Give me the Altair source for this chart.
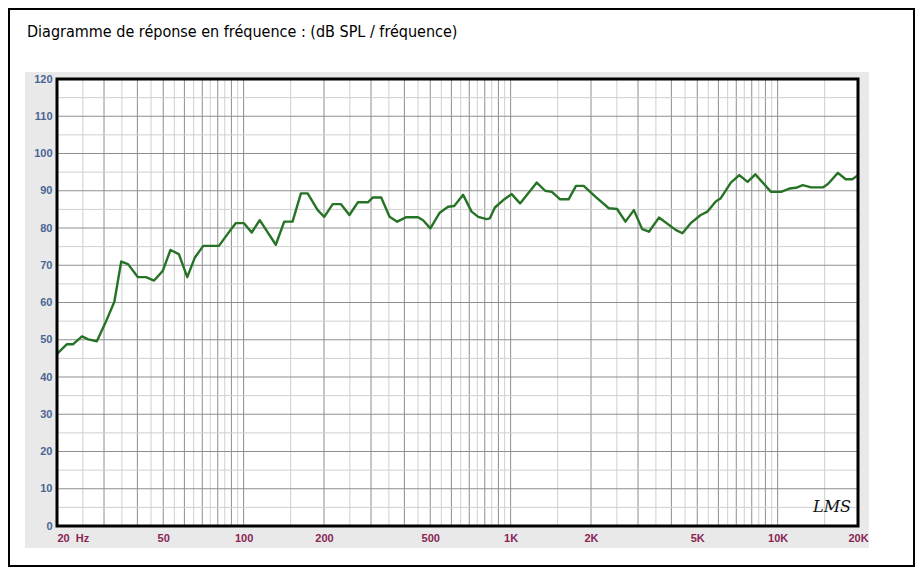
import altair as alt
import pandas as pd

# ---- data ----
freq_hz = [20, 21.8, 23.0, 24.8, 26.2, 28.2, 30.3, 32.8, 34.8, 36.9, 40.2, 43.1, 46.2, 49.8,
           53.2, 57.2, 61.5, 65.7, 70.6, 80.8, 87.7, 93.4, 100.3, 107.2, 114.9, 132, 141.9,
           152.5, 163.9, 173.7, 189.4, 200.5, 215.6, 231.6, 249, 267.8, 292, 305, 327.6, 352,
           376, 406.8, 450, 470, 500.6, 542.6, 583, 614.6, 664, 714, 756.6, 812.8, 836, 873,
           939, 1009, 1085, 1253, 1347, 1427, 1533, 1649, 1757, 1878, 2076, 2332, 2504, 2692,
           2894, 3110, 3296, 3594, 4150, 4398, 4726, 5152, 5460, 5866, 6126, 6680, 7184, 7718,
           8250, 9444, 10296, 11072, 11720, 12420, 13350, 14770, 15430, 16820, 17980, 19040,
           20000]
spl_db = [46.2, 48.8, 48.8, 50.9, 50.1, 49.6, 54.4, 60.2, 71.0, 70.3, 66.8, 66.8, 65.9, 68.5,
          74.1, 73.0, 66.8, 72.1, 75.2, 75.2, 78.7, 81.3, 81.3, 78.8, 82.1, 75.5, 81.7,
          81.7, 89.3, 89.3, 84.8, 83.0, 86.4, 86.4, 83.5, 86.9, 86.9, 88.2, 88.2, 83.0,
          81.7, 82.9, 82.9, 82.1, 79.9, 84.1, 85.7, 85.9, 88.9, 84.4, 83.0, 82.4, 82.6, 85.5,
          87.5, 89.1, 86.6, 92.2, 90.0, 89.7, 87.7, 87.7, 91.3, 91.3, 88.4, 85.3, 85.1, 81.7,
          84.8, 79.7, 79.0, 82.8, 79.5, 78.6, 81.3, 83.5, 84.4, 87.1, 88.0, 92.2, 94.2, 92.4,
          94.4, 89.7, 89.7, 90.6, 90.8, 91.5, 90.9, 90.9, 91.8, 94.8, 93.1, 93.1,
          94.2]

x_major_grid = [30, 40, 50, 60, 70, 80, 90, 100, 200, 300, 400, 500, 600, 700, 800, 900,
                1000, 2000, 3000, 4000, 5000, 6000, 7000, 8000, 9000, 10000]
x_minor_grid = [25, 35, 45, 55, 65, 75, 85, 95, 150, 250, 350, 450, 550, 650, 750, 850, 950,
                1500, 2500, 3500, 4500, 5500, 6500, 7500, 8500, 9500, 15000]
y_major_grid = [10, 20, 30, 40, 50, 60, 70, 80, 90, 100, 110]
y_minor_grid = [5, 15, 25, 35, 45, 55, 65, 75, 85, 95, 105, 115]

x_tick_values = [20, 50, 100, 200, 500, 1000, 2000, 5000, 10000, 20000]
y_tick_values = [0, 10, 20, 30, 40, 50, 60, 70, 80, 90, 100, 110, 120]

title_text = "Diagramme de réponse en fréquence : (dB SPL / fréquence)"
logo_text = "LMS"

# ---- layout ----
W, H = 801, 447

xscale = alt.Scale(type="log", domain=[20, 20000], nice=False)
yscale = alt.Scale(domain=[0, 120], nice=False)

x_axis = alt.Axis(
    values=x_tick_values,
    labelExpr="datum.value == 20 ? '20\u00a0\u00a0Hz' : (datum.value >= 1000 ? (datum.value / 1000) + 'K' : '' + datum.value)",
    labelAlign={"condition": {"test": "datum.value == 20", "value": "left"}, "value": "center"},
    labelFlush=False, labelOverlap=False, labelBound=False,
    labelColor="#8a2454", labelFont="Liberation Sans", labelFontWeight="bold",
    labelFontSize=11, labelPadding=6,
    ticks=False, domain=False, grid=False, title=None, zindex=2,
)
y_axis = alt.Axis(
    values=y_tick_values,
    labelFlush=False, labelOverlap=False,
    labelColor="#4a6594", labelFont="Liberation Sans", labelFontWeight="bold",
    labelFontSize=11, labelPadding=5,
    ticks=False, domain=False, grid=False, title=None, zindex=2,
)

one = pd.DataFrame({"k": [0]})
curve_df = pd.DataFrame({"f": freq_hz, "db": spl_db})

outer = alt.Chart(one).mark_rect(fillOpacity=0, stroke="#000000", strokeWidth=2).encode(
    x=alt.value(-48), x2=alt.value(857), y=alt.value(-70), y2=alt.value(487))

panel = alt.Chart(one).mark_rect(color="#e9e9e9").encode(
    x=alt.value(-32), x2=alt.value(812), y=alt.value(-7), y2=alt.value(469))

plotbg = alt.Chart(one).mark_rect(color="#ffffff").encode(
    x=alt.value(0), x2=alt.value(W), y=alt.value(0), y2=alt.value(H))

vminor = alt.Chart(pd.DataFrame({"f": x_minor_grid})).mark_rule(color="#cfcfcf", strokeWidth=1).encode(
    x=alt.X("f:Q", scale=xscale, axis=x_axis))
vmajor = alt.Chart(pd.DataFrame({"f": x_major_grid})).mark_rule(color="#8e8e8e", strokeWidth=1).encode(
    x=alt.X("f:Q", scale=xscale, axis=x_axis))
hminor = alt.Chart(pd.DataFrame({"db": y_minor_grid})).mark_rule(color="#cfcfcf", strokeWidth=1).encode(
    y=alt.Y("db:Q", scale=yscale, axis=y_axis))
hmajor = alt.Chart(pd.DataFrame({"db": y_major_grid})).mark_rule(color="#8e8e8e", strokeWidth=1).encode(
    y=alt.Y("db:Q", scale=yscale, axis=y_axis))

curve = alt.Chart(curve_df).mark_line(color="#267326", strokeWidth=2.4, strokeJoin="round").encode(
    x=alt.X("f:Q", scale=xscale, axis=x_axis),
    y=alt.Y("db:Q", scale=yscale, axis=y_axis),
    order=alt.Order("f:Q"),
)

frame = alt.Chart(one).mark_rect(fillOpacity=0, stroke="#000000", strokeWidth=3).encode(
    x=alt.value(0), x2=alt.value(W), y=alt.value(0), y2=alt.value(H))

title = alt.Chart(one).mark_text(
    text=title_text, align="left", baseline="alphabetic", fontSize=16,
    font="DejaVu Sans Condensed, DejaVu Sans", color="#000000").encode(
    x=alt.value(-30), y=alt.value(-42))

logo = alt.Chart(one).mark_text(
    text=logo_text, align="center", baseline="middle", fontSize=16,
    font="DejaVu Serif", fontStyle="italic", color="#111111").encode(
    x=alt.value(775), y=alt.value(428))

chart = alt.layer(
    outer, panel, plotbg, vminor, vmajor, hminor, hmajor, curve, frame, title, logo
).properties(
    width=W, height=H,
    autosize=alt.AutoSizeParams(type="none"),
    padding={"left": 49, "top": 71, "right": 57, "bottom": 41},
    background="#ffffff",
).configure_view(stroke=None)

chart.save("out.html", embed_options={"renderer": "svg", "actions": False})
